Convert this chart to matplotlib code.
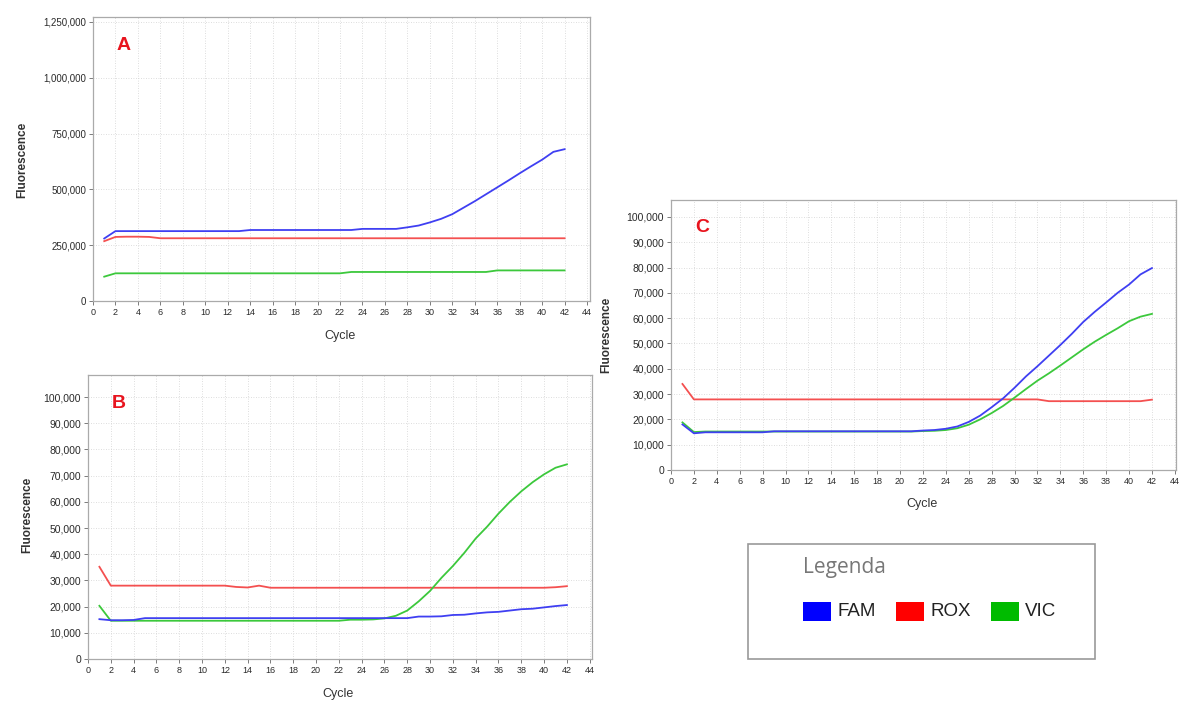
import numpy as np
import matplotlib.pyplot as plt
from matplotlib.patches import Rectangle
from matplotlib.ticker import FuncFormatter

cycles = list(range(1, 43))

# panel A
fam_a = [280e3] + [313e3] * 12 + [318e3] * 10 + [323e3] * 4 + [
    330e3, 338e3, 352e3, 368e3, 389e3, 418e3, 447e3, 478e3, 509e3,
    540e3, 572e3, 603e3, 633e3, 668e3, 680e3]
rox_a = [268e3, 287e3, 288e3, 288e3, 287e3] + [281e3] * 37
vic_a = [109e3] + [124e3] * 21 + [130e3] * 13 + [137e3] * 7

# panel B
fam_b = [15.2e3, 14.8e3, 14.8e3, 14.9e3] + [15.6e3] * 24 + [
    16.2e3, 16.2e3, 16.3e3, 16.8e3, 16.9e3, 17.4e3, 17.8e3, 18.0e3,
    18.5e3, 19.0e3, 19.2e3, 19.7e3, 20.2e3, 20.6e3]
rox_b = [35.2e3] + [28.0e3] * 11 + [27.5e3, 27.3e3, 28.0e3] + [27.2e3] * 25 + [27.4e3, 27.8e3]
vic_b = [20.3e3] + [14.6e3] * 21 + [15.0e3, 15.0e3, 15.1e3, 15.5e3,
    16.5e3, 18.5e3, 22.0e3, 26.0e3, 31.0e3, 35.5e3, 40.5e3, 46.0e3,
    50.5e3, 55.5e3, 60.0e3, 64.0e3, 67.5e3, 70.5e3, 73.0e3, 74.3e3]

# panel C
fam_c = [18.0e3, 14.5e3] + [14.9e3] * 6 + [15.3e3] * 13 + [
    15.6e3, 15.8e3, 16.3e3, 17.2e3, 19.0e3, 21.5e3, 24.8e3, 28.3e3,
    32.5e3, 37.0e3, 41.0e3, 45.2e3, 49.4e3, 53.8e3, 58.5e3, 62.5e3,
    66.2e3, 70.0e3, 73.3e3, 77.3e3, 79.8e3]
rox_c = [34.0e3] + [27.9e3] * 31 + [27.2e3] * 9 + [27.8e3]
vic_c = [18.8e3, 15.0e3] + [15.2e3] * 19 + [15.4e3, 15.5e3, 15.8e3,
    16.5e3, 17.9e3, 20.0e3, 22.5e3, 25.3e3, 28.6e3, 32.0e3, 35.3e3,
    38.2e3, 41.3e3, 44.5e3, 47.7e3, 50.7e3, 53.4e3, 56.0e3, 58.8e3,
    60.6e3, 61.7e3]

legend_names = ['FAM', 'ROX', 'VIC']
line_colors = ['#3f3ff2', '#f45050', '#3cc83c']
patch_colors = ['#0000ff', '#ff0000', '#00bb00']

plt.rcParams['font.family'] = ['Liberation Sans', 'DejaVu Sans']

W, H = 1192, 704
fig = plt.figure(figsize=(W / 100, H / 100), dpi=100)


def px_axes(left, top, right, bottom):
    return fig.add_axes([left / W, 1 - bottom / H, (right - left) / W, (bottom - top) / H])


def style(ax, xmax, ymax, ystep, letter, fmt, ysize):
    ax.set_xlim(0, xmax)
    ax.set_ylim(0, ymax)
    ax.set_xticks(range(0, 45, 2))
    ax.set_yticks(np.arange(0, ymax, ystep))
    ax.yaxis.set_major_formatter(FuncFormatter(fmt))
    ax.tick_params(colors='#666666', labelcolor='#2a2a2a', length=3, width=0.6, pad=2)
    ax.tick_params(axis='x', labelsize=6.5)
    ax.tick_params(axis='y', labelsize=ysize)
    for s in ax.spines.values():
        s.set_color('#aaaaaa')
        s.set_linewidth(0.9)
    ax.grid(True, color='#d2d2d2', linestyle=(0, (1, 2)), linewidth=0.6)
    ax.set_axisbelow(True)
    ax.text(0.048, 0.9, letter, transform=ax.transAxes, color='#e8141e',
            fontsize=14, fontweight='bold', va='center')


def comma(v, pos):
    return '{:,}'.format(int(v))


panels = [
    ((93, 17, 590, 301), 44.26, 1272e3, 250e3, 'A', [fam_a, rox_a, vic_a], (22, 160), (340, 336), 7),
    ((88, 375, 592, 659), 44.2, 108.4e3, 10e3, 'B', [fam_b, rox_b, vic_b], (27, 515), (338, 694), 7.5),
    ((671, 200, 1176, 470), 44.1, 106.7e3, 10e3, 'C', [fam_c, rox_c, vic_c], (606, 335), (922, 504), 7.5),
]

for box, xmax, ymax, ystep, letter, series, ylab, xlab, ysize in panels:
    ax = px_axes(*box)
    style(ax, xmax, ymax, ystep, letter, comma, ysize)
    # draw ROX first so FAM/VIC sit on top
    for i in [1, 2, 0]:
        ax.plot(cycles, series[i], color=line_colors[i], lw=1.3)
    fig.text(ylab[0] / W, 1 - ylab[1] / H, 'Fluorescence', rotation=90, ha='center', va='center',
             fontsize=8.5, color='#333333', fontweight='bold')
    fig.text(xlab[0] / W, 1 - xlab[1] / H, 'Cycle', ha='center', va='center',
             fontsize=9, color='#333333')

# legend box
fig.add_artist(Rectangle((748 / W, 1 - 659 / H), 347 / W, 115 / H, transform=fig.transFigure,
                         fill=False, edgecolor='#999999', lw=1.2))
fig.text(803 / W, 1 - 567 / H, 'Legenda', fontsize=15, color='#777777', va='center',
         family=['Open Sans', 'DejaVu Sans'])
px = [803, 896, 991]
for x0, name, c in zip(px, legend_names, patch_colors):
    fig.add_artist(Rectangle((x0 / W, 1 - 621 / H), 28 / W, 19 / H, transform=fig.transFigure,
                             facecolor=c, edgecolor='none'))
    fig.text((x0 + 34) / W, 1 - 612 / H, name, fontsize=13.5, color='#222222', va='center')

fig.savefig('out.png', dpi=100)
